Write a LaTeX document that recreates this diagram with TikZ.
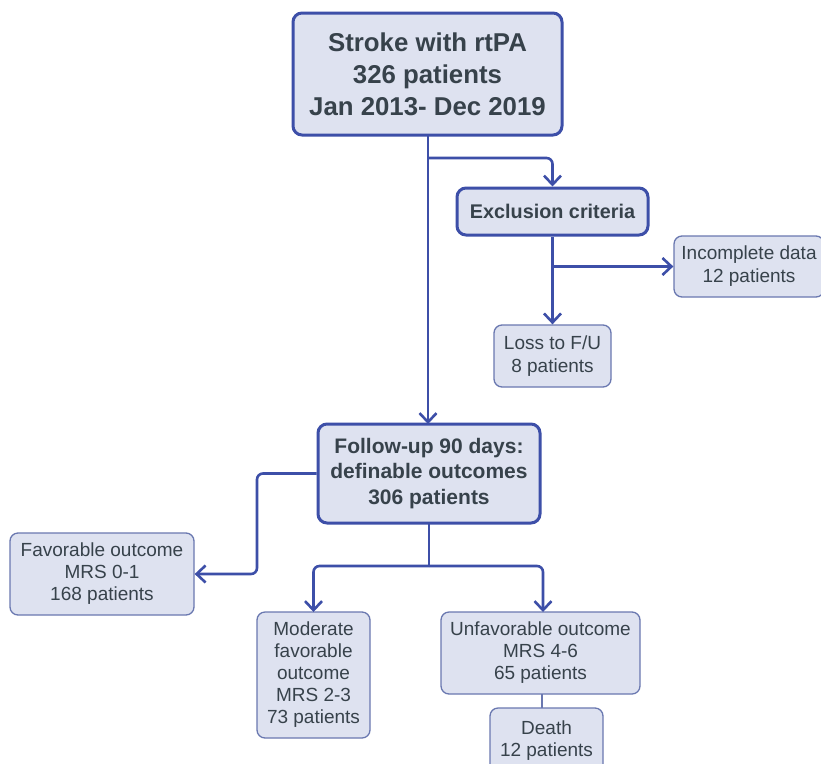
\documentclass[tikz,border=0pt]{standalone}
\usepackage{fontspec}
\setmainfont{Liberation Sans}
\usetikzlibrary{arrows.meta,calc}
\definecolor{lineblue}{HTML}{3D4FA8}
\definecolor{thinblue}{HTML}{6A78B0}
\definecolor{boxfill}{HTML}{DEE2F0}
\definecolor{txt}{HTML}{37424B}
\tikzset{
  mainbox/.style={draw=lineblue, line width=3pt, fill=boxfill, rounded corners=9pt,
    text=txt, align=center, font=\bfseries, inner sep=0pt},
  subbox/.style={draw=thinblue, line width=1.3pt, fill=boxfill, rounded corners=8pt,
    text=txt, align=center, inner sep=0pt},
  conn/.style={draw=lineblue, line width=2.6pt, rounded corners=6pt},
  arr/.style={conn, -{Straight Barb[length=9pt,width=17pt,line width=2.6pt]}},
}
\begin{document}
\begin{tikzpicture}[x=1pt,y=-1pt]
\fill[white] (0,0) rectangle (821,763);
\useasboundingbox (0,0) rectangle (821,763);

\node[mainbox, minimum width=269pt, minimum height=122pt,
  font=\fontsize{25.8}{32}\selectfont\bfseries] (top) at (427.5,74)
  {Stroke with rtPA\\326 patients\\Jan 2013- Dec 2019};
\node[mainbox, minimum width=191pt, minimum height=47pt,
  font=\fontsize{19.8}{22}\selectfont\bfseries] (excl) at (552.5,211.5) {Exclusion criteria};
\node[subbox, minimum width=150pt, minimum height=61pt,
  font=\fontsize{19}{23}\selectfont] (inc) at (749,266.5) {Incomplete data\\12 patients};
\node[subbox, minimum width=117pt, minimum height=62pt,
  font=\fontsize{19}{23}\selectfont] (loss) at (552.5,356) {Loss to F/U\\8 patients};
\node[mainbox, minimum width=222pt, minimum height=99pt,
  font=\fontsize{21}{25.5}\selectfont\bfseries] (fol) at (429,473.5)
  {Follow-up 90 days:\\definable outcomes\\306 patients};
\node[subbox, minimum width=184pt, minimum height=82pt,
  font=\fontsize{19}{22}\selectfont] (fav) at (102,574)
  {Favorable outcome\\MRS 0-1\\168 patients};
\node[subbox, minimum width=113pt, minimum height=126pt,
  font=\fontsize{19}{22}\selectfont] (mod) at (313.5,675)
  {Moderate\\favorable\\outcome\\MRS 2-3\\73 patients};
\node[subbox, minimum width=199pt, minimum height=82pt,
  font=\fontsize{19}{22}\selectfont] (unf) at (540.5,653)
  {Unfavorable outcome\\MRS 4-6\\65 patients};
\node[subbox, minimum width=113pt, minimum height=66pt,
  font=\fontsize{19}{22}\selectfont] (dea) at (546.5,741)
  {Death\\12 patients};

% main trunk
\coordinate (t0) at (428,134);
\coordinate (t1) at (428,158);
\coordinate (fn) at (428,424);
\draw[arr] (t0) -- (fn);
\draw[arr] (t1) -| (excl.north);
% exclusion
\coordinate (e1) at (552.5,266.5);
\draw[arr] (excl.south) -- (loss.north);
\draw[arr] (e1) -- (inc.west);
% follow-up left
\coordinate (fl) at (257,473.5);
\draw[arr] (fol.west) -| (fl |- fav.east) -- (fav.east);
% follow-up down
\coordinate (f0) at (429,523);
\coordinate (f1) at (429,566);
\coordinate (mn) at (313.5,612);
\coordinate (un) at (543,612);
\draw[conn] (f0) -- (f1);
\draw[arr] (f1) -| (mn);
\draw[arr] (f1) -| (un);
% death
\coordinate (u0) at (542,694);
\coordinate (d0) at (542,708);
\draw[conn, line width=2pt, draw=thinblue] (u0) -- (d0);
\end{tikzpicture}
\end{document}
